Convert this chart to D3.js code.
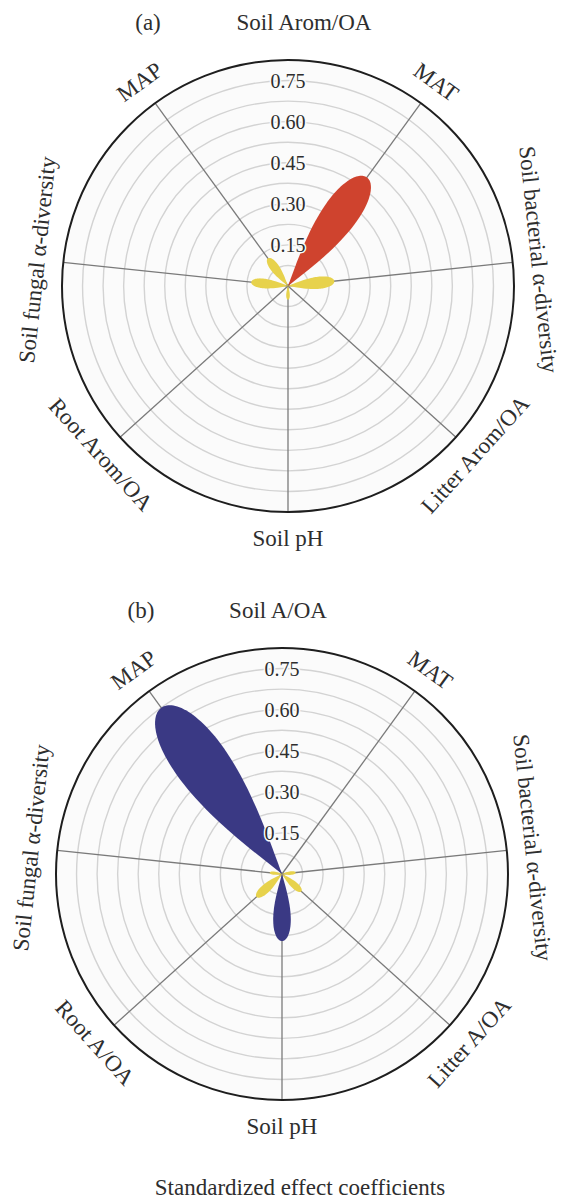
<!DOCTYPE html>
<html>
<head>
<meta charset="utf-8">
<script src="https://cdn.jsdelivr.net/npm/d3@7"></script>
<style>
  body { margin: 0; background: #ffffff; }
  text { font-family: "Liberation Serif", "Times New Roman", serif; fill: #2e2e2e; }
</style>
</head>
<body>
<div id="canvas"></div>
<script>
// Constants related to the size of the canvas.
const WIDTH = 564;
const HEIGHT = 1201;
const RADIUS = 226;

// The dataset.
const axesA = ["MAT", "Soil bacterial α-diversity", "Litter Arom/OA", "Soil pH",
               "Root Arom/OA", "Soil fungal α-diversity", "MAP"];
const axesB = ["MAT", "Soil bacterial α-diversity", "Litter A/OA", "Soil pH",
               "Root A/OA", "Soil fungal α-diversity", "MAP"];

const valuesA = [0.49, 0.17, 0.0, 0.05, 0.0, 0.135, 0.125];
const effectA = ["pos", "ns", "ns", "ns", "ns", "ns", "ns"];

const valuesB = [0.0, 0.05, 0.095, 0.245, 0.125, 0.045, 0.75];
const effectB = ["ns", "ns", "ns", "neg", "ns", "ns", "neg"];

const tickValues = [0.15, 0.30, 0.45, 0.60, 0.75];
const ringValues = [0.075, 0.15, 0.225, 0.30, 0.375, 0.45, 0.525, 0.60, 0.675, 0.75];
const maxValue = 0.825;

// Creates the SVG element.
const svg = d3.select("#canvas")
                .append("svg")
                .attr("width", WIDTH)
                .attr("height", HEIGHT);

// Creates the radial scale.
const rScale = d3.scaleLinear()
                .domain([0, maxValue])
                .range([0, RADIUS]);

// Creates the colour scale for the petals.
const colorScale = d3.scaleOrdinal()
                .domain(["pos", "neg", "ns"])
                .range(["#cf432e", "#3a3984", "#e7d24c"]);

// Petal outline: r = v * sqrt(cos) over +-HALF degrees around the axis.
const HALF = 16;
const petalSteps = d3.range(-40, 41).map(i => i / 40);

function petalPath(value, angleDeg) {
    const line = d3.lineRadial()
        .angle(t => (angleDeg + t * HALF) * Math.PI / 180)
        .radius(t => rScale(value) * Math.sqrt(Math.max(0, Math.cos(t * Math.PI / 2))))
        .curve(d3.curveLinearClosed);
    return line(petalSteps);
}

function labelRotation(a) {
    let rot = a;
    if (rot > 180) rot -= 360;
    if (rot > 90) rot -= 180;
    if (rot < -90) rot += 180;
    return rot;
}

function drawPanel(cx, cy, axes, values, effects, letter, title, lx, tx, ty) {
    const g = svg.append("g").attr("transform", `translate(${cx}, ${cy})`);

    // Creates the angle scale (degrees, clockwise from 12 o'clock).
    const aScale = d3.scalePoint()
                    .domain(axes)
                    .range([36, 324]);

    // Background and grid rings.
    g.append("circle")
        .attr("r", rScale(maxValue))
        .style("fill", "#fbfbfb");

    g.selectAll(".ring")
        .data(ringValues)
        .enter()
        .append("circle")
        .attr("r", d => rScale(d))
        .style("fill", "none")
        .style("stroke", "#d3d3d3")
        .style("stroke-width", 1.4);

    // Spokes.
    g.selectAll(".spoke")
        .data(axes)
        .enter()
        .append("line")
        .attr("x1", 0)
        .attr("y1", 0)
        .attr("x2", d => rScale(maxValue) * Math.sin(aScale(d) * Math.PI / 180))
        .attr("y2", d => -rScale(maxValue) * Math.cos(aScale(d) * Math.PI / 180))
        .style("stroke", "#7a7a7a")
        .style("stroke-width", 1.3);

    // Outer circle.
    g.append("circle")
        .attr("r", rScale(maxValue))
        .style("fill", "none")
        .style("stroke", "#1e1e1e")
        .style("stroke-width", 2);

    // Petals.
    g.selectAll(".petal")
        .data(axes.map((a, i) => ({ axis: a, value: values[i], effect: effects[i] })))
        .enter()
        .filter(d => d.value > 0)
        .append("path")
        .attr("d", d => petalPath(d.value, aScale(d.axis)))
        .style("fill", d => colorScale(d.effect));

    // Tick labels along the vertical.
    g.selectAll(".tick")
        .data(tickValues)
        .enter()
        .append("text")
        .attr("x", 0)
        .attr("y", d => -rScale(d))
        .attr("text-anchor", "middle")
        .attr("dominant-baseline", "central")
        .style("font-size", "20px")
        .style("stroke", "#fbfbfb")
        .style("stroke-width", 3)
        .style("paint-order", "stroke")
        .text(d => d.toFixed(2));

    // Axis labels.
    const LABEL_R = RADIUS + 26;
    g.selectAll(".axis-label")
        .data(axes)
        .enter()
        .append("text")
        .attr("transform", d => {
            const a = aScale(d);
            const x = LABEL_R * Math.sin(a * Math.PI / 180);
            const y = -LABEL_R * Math.cos(a * Math.PI / 180);
            return `translate(${x}, ${y}) rotate(${labelRotation(a)})`;
        })
        .attr("text-anchor", "middle")
        .attr("dominant-baseline", "central")
        .style("font-size", "23px")
        .text(d => d);

    // Panel letter and response title.
    svg.append("text")
        .attr("x", lx)
        .attr("y", ty)
        .attr("text-anchor", "middle")
        .attr("dominant-baseline", "central")
        .style("font-size", "23px")
        .text(letter);

    svg.append("text")
        .attr("x", tx)
        .attr("y", ty)
        .attr("text-anchor", "middle")
        .attr("dominant-baseline", "central")
        .style("font-size", "23px")
        .text(title);
}

drawPanel(288, 286, axesA, valuesA, effectA, "(a)", "Soil Arom/OA", 148, 304, 22);
drawPanel(282, 874, axesB, valuesB, effectB, "(b)", "Soil A/OA", 141, 278, 610);

svg.append("text")
    .attr("x", 300)
    .attr("y", 1187)
    .attr("text-anchor", "middle")
    .attr("dominant-baseline", "central")
    .style("font-size", "23px")
    .text("Standardized effect coefficients");
</script>
</body>
</html>
